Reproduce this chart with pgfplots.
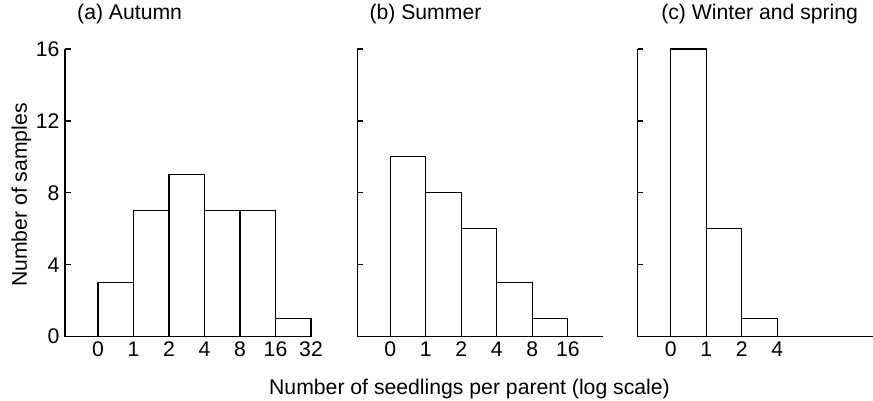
\documentclass[border=0pt]{standalone}
\usepackage{fontspec}
\setmainfont{Liberation Sans}
\usepackage{pgfplots}
\pgfplotsset{compat=1.18}
\begin{document}
\begin{tikzpicture}[font=\fontsize{10.6}{12.7}\selectfont]
\path[use as bounding box] (-32.5pt,-32.15pt) rectangle (404pt,168.35pt);
\pgfplotsset{
 panel/.style={
  scale only axis, height=143.85pt, ymin=0, ymax=16,
  xmin=-0.93,
  axis lines=left, axis line style={-, line width=0.6pt, color=black},
  ytick={0,4,8,12,16}, tick align=inside, major tick length=2.75pt,
  ytick style={line width=0.6pt, black},
  xtick style={draw=none},
  /pgf/number format/assume math mode=true,
  xticklabel style={anchor=base, inner sep=0pt, yshift=-10.15pt},
  yticklabel style={anchor=east, inner sep=0pt, xshift=-2.6pt},
  title style={at={(0,1)}, anchor=base west, inner sep=0pt, xshift=5.9pt, yshift=8.65pt},
  clip=false,
 },
 bars/.style={ybar interval, fill=white, draw=black, line width=0.6pt},
}
\begin{axis}[panel, at={(0pt,0pt)}, anchor=south west, width=123pt, xmax=6,
  xtick={0,...,6}, xticklabels={0,1,2,4,8,16,32}, title={(a) Autumn}]
\addplot[bars] coordinates {(0,3) (1,7) (2,9) (3,7) (4,7) (5,1) (6,1)};
\end{axis}
\begin{axis}[panel, at={(146.15pt,0pt)}, anchor=south west, width=123pt, xmax=6,
  xtick={0,...,5}, xticklabels={0,1,2,4,8,16}, yticklabels={}, title={(b) Summer}]
\addplot[bars] coordinates {(0,10) (1,8) (2,6) (3,3) (4,1) (5,1)};
\end{axis}
\begin{axis}[panel, at={(286.35pt,0pt)}, anchor=south west, width=117.5pt, xmax=5.69,
  xtick={0,...,3}, xticklabels={0,1,2,4}, yticklabels={}, title={(c) Winter and spring},
  title style={xshift=5.7pt}]
\addplot[bars] coordinates {(0,16) (1,6) (2,1) (3,1)};
\end{axis}
\node[anchor=base] at (202.25pt,-29.15pt) {Number of seedlings per parent (log scale)};
\node[rotate=90, anchor=base] at (-19pt,70.85pt) {Number of samples};
\end{tikzpicture}
\end{document}
